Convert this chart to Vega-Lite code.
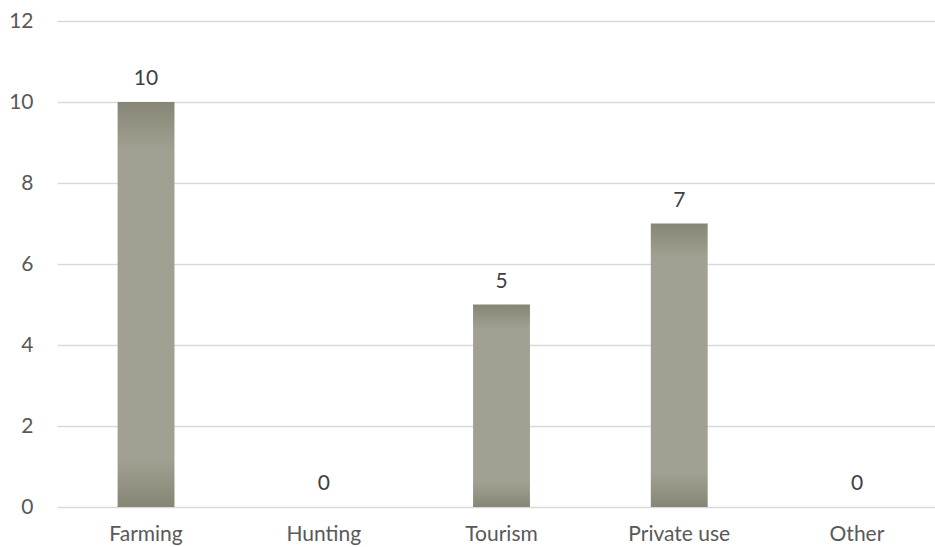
{
  "$schema": "https://vega.github.io/schema/vega-lite/v6.json",
  "autosize": "none",
  "width": 878,
  "height": 486,
  "padding": {"left": 57, "top": 21, "right": 0, "bottom": 40},
  "background": "white",
  "config": {
    "view": {"stroke": null},
    "font": "Lato"
  },
  "data": {
    "values": [
      {"category": "Farming", "count": 10},
      {"category": "Hunting", "count": 0},
      {"category": "Tourism", "count": 5},
      {"category": "Private use", "count": 7},
      {"category": "Other", "count": 0}
    ]
  },
  "encoding": {
    "x": {
      "field": "category",
      "type": "nominal",
      "sort": null,
      "scale": {"paddingInner": 0.68, "paddingOuter": 0.31, "align": 0.55},
      "axis": {
        "title": null,
        "labelAngle": 0,
        "labelFontSize": 21,
        "labelColor": "#595959",
        "labelFont": "Lato",
        "labelPadding": 16,
        "ticks": false,
        "domain": false,
        "grid": false
      }
    },
    "y": {
      "field": "count",
      "type": "quantitative",
      "scale": {"domain": [0, 12], "nice": false},
      "axis": {
        "title": null,
        "values": [0, 2, 4, 6, 8, 10, 12],
        "labelFontSize": 21,
        "labelColor": "#595959",
        "labelFont": "Lato",
        "labelPadding": 24,
        "ticks": false,
        "domain": false,
        "grid": true,
        "gridColor": "#d9d9d9",
        "gridWidth": 1.3
      }
    }
  },
  "layer": [
    {
      "mark": {
        "type": "bar",
        "fill": {
          "gradient": "linear",
          "x1": 0, "y1": 0, "x2": 0, "y2": 1,
          "stops": [
            {"offset": 0, "color": "#878574"},
            {"offset": 0.12, "color": "#a2a092"},
            {"offset": 0.88, "color": "#a2a092"},
            {"offset": 1, "color": "#878574"}
          ]
        }
      }
    },
    {
      "mark": {
        "type": "text",
        "baseline": "alphabetic",
        "dy": -17,
        "fontSize": 21,
        "color": "#404040",
        "font": "Lato"
      },
      "encoding": {"text": {"field": "count", "type": "quantitative"}}
    }
  ]
}
